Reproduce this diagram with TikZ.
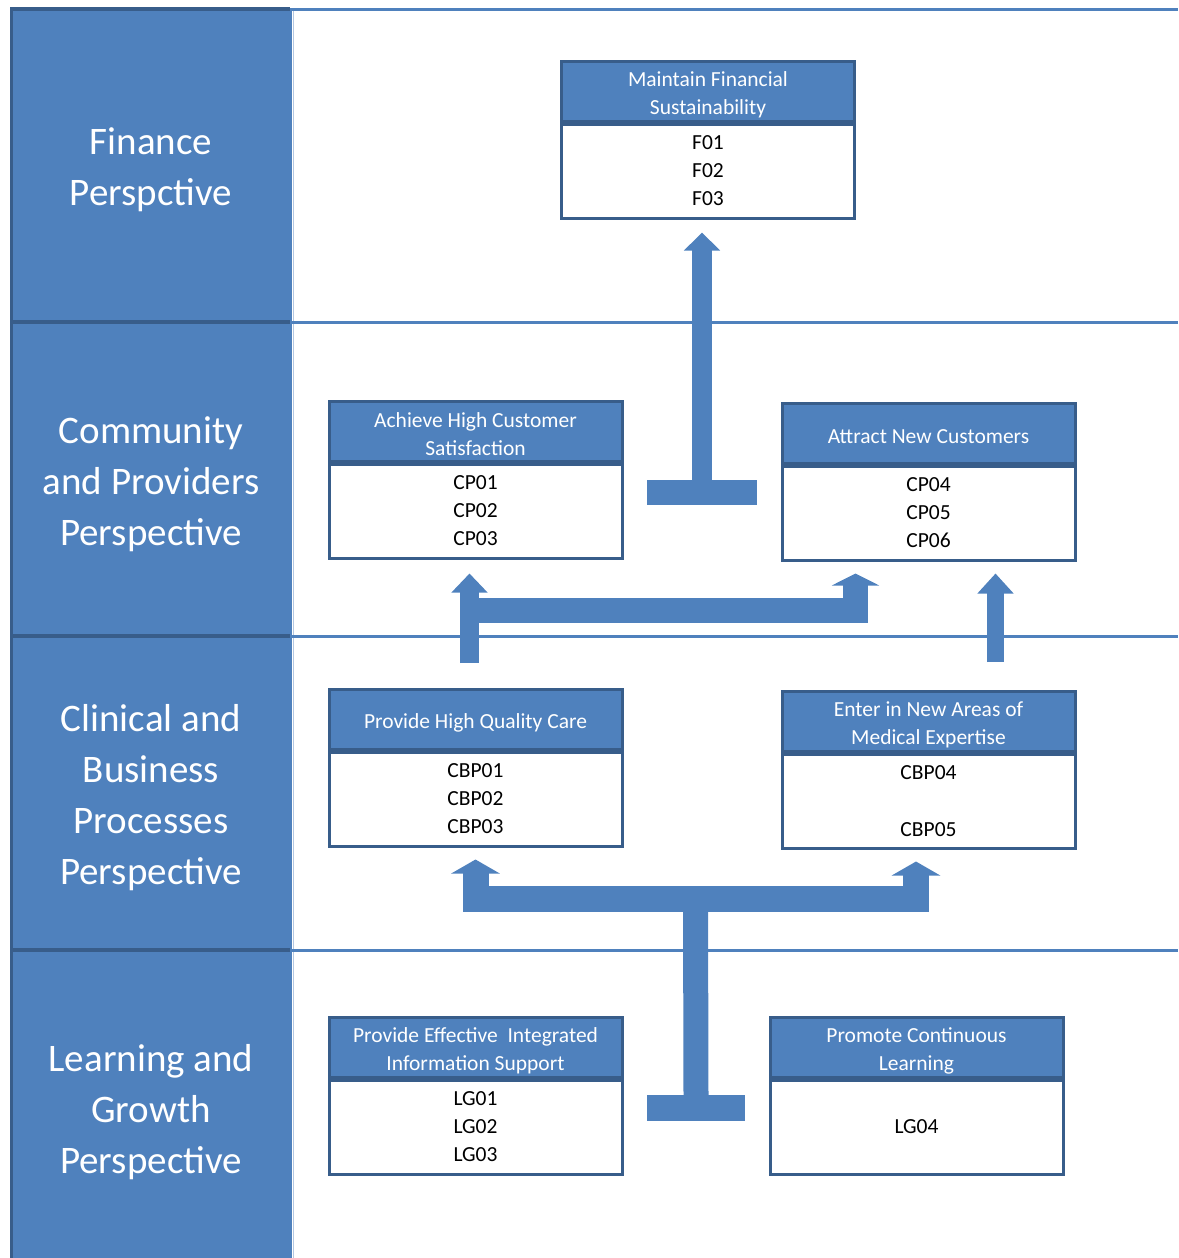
\documentclass[tikz,border=0pt]{standalone}
\usepackage{fontspec}
\setmainfont{Carlito}
\usetikzlibrary{positioning,arrows.meta}
\definecolor{bscblue}{HTML}{4F81BD}
\definecolor{bscdark}{HTML}{385D8A}
\definecolor{bscpale}{HTML}{B4C8E2}
\newcommand\hstrut{\rule{0pt}{22pt}}
\tikzset{
  objhead/.style={draw=bscdark, fill=bscblue, line width=3pt, text=white,
    minimum width=293pt, minimum height=60pt, inner sep=0pt, align=center,
    font=\fontsize{21.5}{28}\selectfont},
  objbody/.style={draw=bscdark, fill=white, line width=3pt,
    minimum width=293pt, minimum height=94pt, inner sep=0pt, align=center,
    font=\fontsize{21.5}{28}\selectfont},
  perlabel/.style={text=white, align=center, font=\fontsize{39}{51}\selectfont},
  bandline/.style={bscblue, line width=3pt},
  sepline/.style={bscdark, line width=4pt},
  flow/.style={bscblue, line width=#1},
  tbar/.style={fill=bscblue, inner sep=0pt},
}
\begin{document}
\begin{tikzpicture}[x=1pt,y=-1pt]
\useasboundingbox (0,0) rectangle (1178,1258);

% perspective column and bands
\fill[bscblue] (10,8) rectangle (292,1258);
\draw[bscdark, line width=3pt] (11.5,8) -- (11.5,1258);
\draw[bscpale, line width=1pt] (293.5,10) -- (293.5,1258);
\foreach \y in {9,322,636,950} {
  \draw[sepline] (10,\y) -- (290,\y);
  \draw[bandline] (292,\y) -- (1178,\y);
}

\node[perlabel] (finlab) at (151,170) {Finance\\Perspctive};
\node[perlabel] (cplab) at (151,484.5) {Community\\and Providers\\Perspective};
\node[perlabel] (cbplab) at (151,798) {Clinical and\\Business\\Processes\\Perspective};
\node[perlabel] (lglab) at (151,1112.5) {Learning and\\Growth\\Perspective};

% objectives
\node[objhead] (fin) at (708,91) {\hstrut Maintain Financial\\Sustainability};
\node[objbody, below=0pt of fin] (finb) {F01\\F02\\F03};

\node[objhead] (cs) at (475.5,431) {\hstrut Achieve High Customer\\Satisfaction};
\node[objbody, below=0pt of cs] (csb) {CP01\\CP02\\CP03};

\node[objhead] (anc) at (928.5,433) {\hstrut Attract New Customers};
\node[objbody, below=0pt of anc] (ancb) {CP04\\CP05\\CP06};

\node[objhead] (hqc) at (475.5,719) {\hstrut Provide High Quality Care};
\node[objbody, below=0pt of hqc] (hqcb) {CBP01\\CBP02\\CBP03};

\node[objhead] (nam) at (928.5,721) {\hstrut Enter in New Areas of\\Medical Expertise};
\node[objbody, below=0pt of nam] (namb) {CBP04\\[29pt]CBP05};

\node[objhead] (eis) at (475.5,1047) {\hstrut Provide Effective~ Integrated\\Information Support};
\node[objbody, below=0pt of eis] (eisb) {LG01\\LG02\\LG03};

\node[objhead] (pcl) at (916.5,1047) {\hstrut Promote Continuous\\Learning};
\node[objbody, below=0pt of pcl] (pclb) {LG04};

% arrows
\node[tbar, minimum width=110pt, minimum height=25pt] (finbar) at (702,492.5) {};
\draw[flow=20pt, -{Triangle[width=35pt,length=18pt]}]
  (finbar.north) -- ([yshift=-13pt]finbar.north |- finb.south);

\coordinate (cpfoot) at (469.5,663);
\coordinate (cpbend) at (469.5,610.5);
\coordinate (ancfoot) at (995.5,662);
\draw[flow=19pt, -{Triangle[width=35pt,length=19pt]}]
  (cpfoot) -- ([yshift=-14pt]cpfoot |- csb.south);
\draw[flow=25pt, -{Triangle[width=47pt,length=12pt]}]
  (cpbend) -| ([yshift=-12pt]855.5,0 |- ancb.south);
\draw[flow=17pt, -{Triangle[width=35pt,length=20pt]}]
  (ancfoot) -- ([yshift=-12pt]ancfoot |- ancb.south);

\node[tbar, minimum width=98pt, minimum height=26pt] (lgbar) at (696,1108) {};
\coordinate (lgmid) at (695.5,898.5);
\draw[flow=25pt] (lgbar.north) -- (lgmid);
\draw[flow=26pt, {Triangle[width=48pt,length=14pt]}-{Triangle[width=48pt,length=14pt]}]
  ([yshift=-12pt]hqcb.south) |- (lgmid) -| ([yshift=-12pt]916,0 |- namb.south);

\end{tikzpicture}
\end{document}
